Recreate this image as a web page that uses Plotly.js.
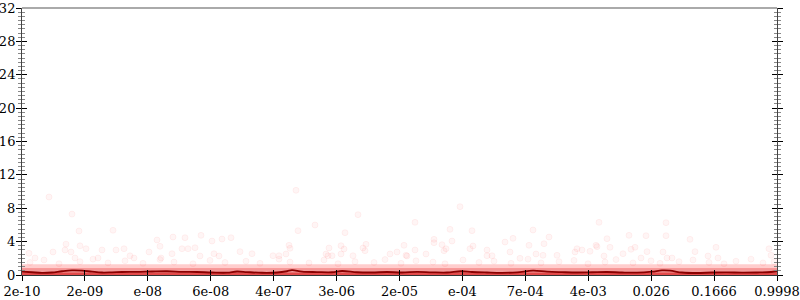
<!DOCTYPE html>
<html><head><meta charset="utf-8">
<script src="https://cdn.plot.ly/plotly-3.0.1.min.js"></script>
<style>html,body{margin:0;padding:0;background:#fff}#chart{width:800px;height:300px}</style>
</head><body><div id="chart"></div>
<script>
// x: rank position of each test (0..755), tick labels are p-value quantiles
const tickPositions = [0, 62.9, 125.8, 188.8, 251.7, 314.6, 377.5, 440.4, 503.3, 566.3, 629.2, 692.1, 755];
const tickLabels = ["2e-10","2e-09","e-08","6e-08","4e-07","3e-06","2e-05","e-04","7e-04","4e-03","0.026","0.1666","0.9998"];

// sparse individual observations above the dense band
const sparseX = [27,50,57,91,44,58,64,43,49,31,80,94,102,135,151,163,179,190,138,160,166,173,127,150,192,108,7,13,53,76,112,139,178,197,
  274,336,293,276,323,200,209,267,268,307,319,322,344,341,343,382,218,230,251,257,264,304,306,310,319,331,368,375,385,
  438,393,428,450,511,577,412,430,491,527,483,522,420,412,451,448,507,424,422,393,465,555,560,568,574,384,404,465,470,488,498,514,521,535,553,
  644,607,624,644,585,668,575,588,609,613,601,625,641,673,694,686,582,619,645,650,696,747,749];
const sparseY = [9.35,7.3,5.27,5.36,3.7,3.5,3.15,3.0,2.76,2.76,3.0,3.0,3.15,4.2,4.55,4.47,4.75,4.07,3.44,3.15,3.15,3.27,2.76,2.55,2.55,2.3,2.6,2.04,2.04,2.04,2.04,2.04,2.28,2.28,
  10.15,7.23,5.99,5.31,5.07,4.31,4.47,3.56,3.2,3.24,3.51,3.12,3.68,3.24,2.91,3.56,2.8,2.55,2.31,2.31,2.52,2.52,2.31,2.31,2.52,2.31,2.52,2.76,2.28,
  8.19,6.31,5.47,5.31,5.39,6.31,4.27,4.07,4.39,4.55,3.95,3.75,3.63,3.87,3.48,3.15,3.56,3.15,2.91,3.0,3.0,3.15,3.0,2.84,3.56,2.36,2.52,2.31,2.31,2.76,2.0,2.52,2.36,2.36,2.76,
  6.27,4.75,4.71,4.71,4.35,4.27,3.4,3.32,3.08,3.32,2.55,2.8,2.76,2.8,3.32,2.28,2.28,2.04,2.04,2.04,2.04,3.15,2.36];

// observations just above the tied band
const lowX = [8,22,37,58,71,86,103,121,138,152,171,188,203,224,238,257,268,287,302,316,333,352,363,379,394,411,423,441,457,472,489,506,519,537,552,566,583,594,611,629,638,657,671,687,702,714,729,741,752];
const lowY = [1.5,1.8,1.35,1.6,1.9,1.45,1.7,1.4,1.85,1.55,1.35,1.75,1.5,1.65,1.4,1.9,1.55,1.45,1.8,1.35,1.6,1.5,1.85,1.4,1.7,1.55,1.35,1.8,1.5,1.65,1.4,1.9,1.45,1.6,1.75,1.35,1.55,1.85,1.45,1.7,1.4,1.6,1.8,1.5,1.35,1.65,1.9,1.45,1.6];

// tied observations at 1 and the dense core near 0
const tiedX = [0, 755];
const tiedY = [1, 1];
const denseX = [0, 755];
const denseUpper = [0.8, 0.8];
const coreUpper = [0.3, 0.3];

// running mean
const meanX = [0,10,20,30,40,50,60,70,80,90,100,115,130,145,160,175,190,205,215,225,240,255,265,270,280,295,310,320,335,350,365,380,395,410,425,439,450,465,480,495,511,525,540,555,570,585,600,615,630,640,648,660,675,690,705,720,735,745,755];
const meanY = [0.40,0.33,0.25,0.30,0.45,0.55,0.52,0.40,0.30,0.32,0.36,0.37,0.42,0.45,0.38,0.36,0.30,0.28,0.42,0.35,0.27,0.30,0.45,0.58,0.40,0.35,0.33,0.48,0.33,0.30,0.36,0.30,0.38,0.32,0.30,0.45,0.36,0.30,0.26,0.32,0.52,0.40,0.34,0.30,0.33,0.36,0.30,0.28,0.40,0.55,0.52,0.30,0.24,0.30,0.32,0.28,0.30,0.33,0.45];

const traces = [
  {x: denseX, y: denseUpper, type:'scatter', mode:'lines', fill:'tozeroy', fillcolor:'rgba(235,60,60,0.5)', line:{width:0}, hoverinfo:'skip'},
  {x: denseX, y: coreUpper, type:'scatter', mode:'lines', fill:'tozeroy', fillcolor:'rgba(215,20,20,0.6)', line:{width:0}, hoverinfo:'skip'},
  {x: tiedX, y: tiedY, type:'scatter', mode:'lines', line:{color:'rgba(255,90,90,0.3)', width:5}},
  {x: lowX, y: lowY, type:'scatter', mode:'markers', marker:{size:6, color:'rgba(255,0,0,0.04)', line:{color:'rgba(255,0,0,0.05)', width:1}}},
  {x: sparseX, y: sparseY, type:'scatter', mode:'markers', marker:{size:6, color:'rgba(255,0,0,0.04)', line:{color:'rgba(255,0,0,0.05)', width:1}}},
  {x: meanX, y: meanY, type:'scatter', mode:'lines', line:{color:'#8b0000', width:1.8, shape:'spline'}}
];

const tickFont = {family:'"DejaVu Serif", "Liberation Serif", serif', size:13, color:'#000'};
const layout = {
  width:800, height:300,
  margin:{l:22, r:23, t:8, b:25},
  paper_bgcolor:'#fff', plot_bgcolor:'#fff',
  showlegend:false,
  xaxis:{range:[0,755], tickmode:'array', tickvals:tickPositions, ticktext:tickLabels,
    ticks:'outside', ticklen:5, tickcolor:'#000', tickwidth:1, showgrid:false, zeroline:false,
    showline:true, linecolor:'#333', linewidth:1, tickfont:tickFont, ticklabelstandoff:-1},
  xaxis2:{range:[0,755], overlaying:'x', anchor:'y', side:'bottom', tickmode:'array', tickvals:tickPositions,
    ticks:'inside', ticklen:5, tickcolor:'#000', showticklabels:false, showgrid:false, zeroline:false, showline:false},
  yaxis:{range:[0,32], tickmode:'linear', tick0:0, dtick:4, ticks:'outside', ticklen:5, tickcolor:'#000',
    minor:{dtick:0.5, ticks:'outside', ticklen:3, tickcolor:'#888', showgrid:false},
    showgrid:false, zeroline:false, showline:true, linecolor:'#444', mirror:'ticks', tickfont:tickFont, ticklabelstandoff:-2},
  yaxis2:{range:[0,32], overlaying:'y', anchor:'x', side:'left', tickmode:'linear', tick0:0, dtick:4, ticks:'inside', ticklen:5, tickcolor:'#000',
    minor:{dtick:0.5, ticks:'inside', ticklen:3, tickcolor:'#888', showgrid:false},
    showticklabels:false, showgrid:false, zeroline:false, showline:true, linecolor:'#444', mirror:'ticks'},
  shapes:[{type:'line', xref:'paper', yref:'paper', x0:0, x1:1, y0:1, y1:1, line:{color:'#aaa', width:2}}]
};
// empty trace to activate overlay axes
traces.push({x:[], y:[], xaxis:'x2', yaxis:'y2', type:'scatter', mode:'markers', hoverinfo:'skip'});
Plotly.newPlot('chart', traces, layout, {displayModeBar:false, staticPlot:true});
</script></body></html>
